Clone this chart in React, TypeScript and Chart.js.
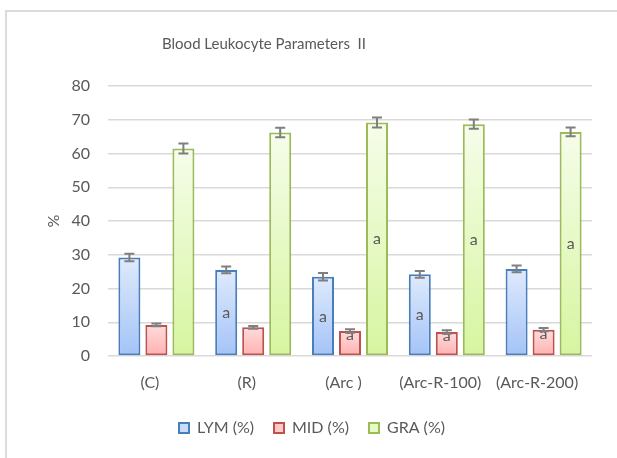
import React, { useEffect, useRef } from "react";
import { Chart, registerables } from "chart.js";

Chart.register(...registerables);

const chartTitle = "Blood Leukocyte Parameters  II";
const categories = ["(C)", "(R)", "(Arc )", "(Arc-R-100)", "(Arc-R-200)"];
const seriesNames = ["LYM (%)", "MID (%)", "GRA (%)"];
const lymValues = [29.2, 25.5, 23.5, 24.2, 25.8];
const midValues = [9.2, 8.5, 7.4, 7.1, 7.8];
const graValues = [61.5, 66.2, 69.2, 68.7, 66.4];
const lymErrors = [1.1, 1.0, 1.1, 1.0, 1.0];
const midErrors = [0.4, 0.4, 0.5, 0.5, 0.5];
const graErrors = [1.5, 1.4, 1.5, 1.4, 1.3];
const lymLabels = ["", "a", "a", "a", ""];
const midLabels = ["", "", "a", "a", "a"];
const graLabels = ["", "", "a", "a", "a"];
const yMin = 0;
const yMax = 80;
const yStep = 10;
const yTitle = "%";

const FONT = "Lato, 'Liberation Sans', sans-serif";
const TEXT = "#595959";

const styles = [
  { border: "#4a7ebb", top: "#dfeafd", bottom: "#a3c3f7", legend: "#c9dcf9" },
  { border: "#c0504d", top: "#ffdcdc", bottom: "#ffb0b0", legend: "#ffc9c9" },
  { border: "#9bbb59", top: "#f6fdea", bottom: "#d6f59f", legend: "#e6f9c6" },
];

const values = [lymValues, midValues, graValues];
const errors = [lymErrors, midErrors, graErrors];
const labels = [lymLabels, midLabels, graLabels];

const gradientFill = (i: number) => (ctx: any) => {
  const chart = ctx.chart;
  const st = styles[i];
  const ys = chart.scales && chart.scales.y;
  if (ctx.type !== "data" || !ys || ctx.raw == null) return st.legend;
  const top = ys.getPixelForValue(ctx.raw);
  const base = ys.getPixelForValue(0);
  if (!isFinite(top) || !isFinite(base) || base - top < 1) return st.legend;
  const g = chart.ctx.createLinearGradient(0, top, 0, base);
  g.addColorStop(0, st.top);
  g.addColorStop(1, st.bottom);
  return g;
};

const extrasPlugin = {
  id: "extras",
  afterDraw(chart: any) {
    const ctx = chart.ctx;
    ctx.save();
    ctx.font = `15px ${FONT}`;
    ctx.fillStyle = TEXT;
    ctx.textAlign = "center";
    ctx.textBaseline = "middle";
    ctx.fillText(chartTitle, 264, 44);
    ctx.restore();
  },
  afterDatasetsDraw(chart: any) {
    const ctx = chart.ctx;
    const ys = chart.scales.y;
    ctx.save();
    ctx.font = `16px ${FONT}`;
    ctx.fillStyle = TEXT;
    ctx.textAlign = "center";
    ctx.textBaseline = "middle";
    chart.data.datasets.forEach((ds: any, di: number) => {
      const meta = chart.getDatasetMeta(di);
      meta.data.forEach((bar: any, i: number) => {
        const txt = labels[di][i];
        if (!txt) return;
        const top = ys.getPixelForValue(values[di][i]);
        const base = ys.getPixelForValue(0);
        const y = base - top < 30 ? top + 4 : (top + base) / 2;
        ctx.fillText(txt, bar.x, y);
      });
    });
    ctx.strokeStyle = "#7f7f7f";
    ctx.lineWidth = 2;
    chart.data.datasets.forEach((ds: any, di: number) => {
      const meta = chart.getDatasetMeta(di);
      meta.data.forEach((bar: any, i: number) => {
        const v = values[di][i];
        const e = errors[di][i];
        const y1 = ys.getPixelForValue(v + e);
        const y2 = ys.getPixelForValue(v - e);
        const x = bar.x;
        const cap = 5;
        ctx.beginPath();
        ctx.moveTo(x, y1);
        ctx.lineTo(x, y2);
        ctx.moveTo(x - cap, y1);
        ctx.lineTo(x + cap, y1);
        ctx.moveTo(x - cap, y2);
        ctx.lineTo(x + cap, y2);
        ctx.stroke();
      });
    });
    ctx.restore();
  },
};

export default function App() {
  const ref = useRef<HTMLCanvasElement>(null);
  useEffect(() => {
    if (!ref.current) return;
    const chart = new Chart(ref.current, {
      type: "bar",
      data: {
        labels: categories,
        datasets: seriesNames.map((name, i) => ({
          label: name,
          data: values[i],
          backgroundColor: gradientFill(i),
          borderColor: styles[i].border,
          borderWidth: 2,
          borderSkipped: false,
          categoryPercentage: 0.837,
          barPercentage: 0.815,
        })),
      },
      options: {
        animation: false,
        responsive: false,
        maintainAspectRatio: false,
        layout: { padding: { left: 32, right: 25, top: 86, bottom: 12 } },
        plugins: {
          title: { display: false },
          legend: {
            position: "bottom",
            labels: {
              color: TEXT,
              font: { family: FONT, size: 16 },
              boxWidth: 10,
              boxHeight: 10,
              padding: 20,
              generateLabels: () =>
                seriesNames.map((name, i) => ({
                  text: name,
                  fillStyle: styles[i].legend,
                  strokeStyle: styles[i].border,
                  lineWidth: 2,
                  datasetIndex: i,
                  fontColor: TEXT,
                })),
            },
          },
          tooltip: { enabled: false },
        },
        scales: {
          x: {
            grid: { display: false },
            border: { display: false },
            ticks: {
              color: TEXT,
              font: { family: FONT, size: 16 },
              padding: 9,
              labelOffset: -6.5,
              maxRotation: 0,
              autoSkip: false,
            },
            afterFit: (s: any) => {
              s.height = 44;
            },
          },
          y: {
            min: yMin,
            max: yMax,
            grid: { color: "#d9d9d9", lineWidth: 1.5, drawTicks: false },
            border: { display: false },
            ticks: {
              stepSize: yStep,
              color: TEXT,
              font: { family: FONT, size: 16 },
              padding: 18,
            },
            title: {
              display: true,
              text: yTitle,
              color: TEXT,
              font: { family: FONT, size: 16 },
              padding: { top: 12, bottom: 0 },
            },
            afterFit: (s: any) => {
              s.width = 76;
            },
          },
        },
      },
      plugins: [extrasPlugin],
    });
    return () => chart.destroy();
  }, []);
  return (
    <div style={{ position: "fixed", left: 0, top: 0, width: 617, height: 458, background: "#fff", overflow: "hidden" }}>
      <div
        style={{
          position: "absolute",
          left: 5,
          top: 10,
          width: 700,
          height: 600,
          borderTop: "2px solid #dcdcdc",
          borderLeft: "2px solid #dcdcdc",
        }}
      />
      <canvas ref={ref} width={617} height={458} style={{ position: "absolute", left: 0, top: 0, width: 617, height: 458 }} />
    </div>
  );
}
